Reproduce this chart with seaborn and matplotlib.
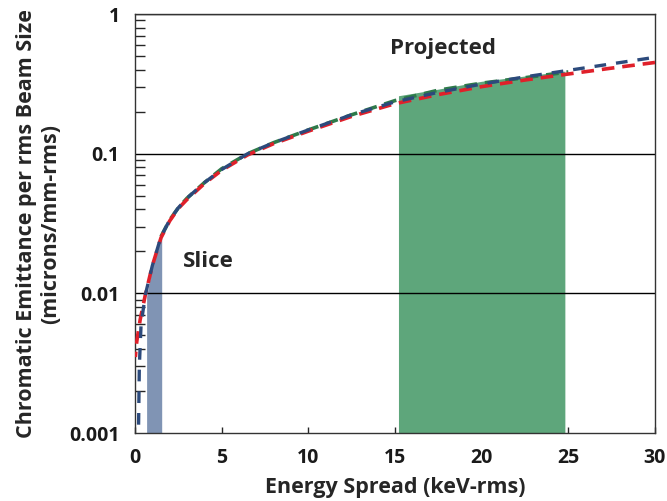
import numpy as np
import pandas as pd
import seaborn as sns
import matplotlib
matplotlib.use("Agg")
import matplotlib.pyplot as plt
from matplotlib.ticker import LogLocator, FixedLocator, NullFormatter

# ---- data ----
blue_x = [0.2, 0.25, 0.35, 0.6, 1.0, 1.5, 2.0, 2.5, 3.0, 4.0, 5.0, 6.5, 8.0, 10.0, 12.5, 15.0, 17.5, 20.0, 22.5, 25.0, 27.5, 30.0]
blue_y = [0.001, 0.003, 0.006, 0.0098, 0.0158, 0.0255, 0.0335, 0.041, 0.048, 0.062, 0.077, 0.1, 0.12, 0.148, 0.19, 0.235, 0.275, 0.315, 0.355, 0.395, 0.44, 0.49]

red_x = [0.02, 0.1, 0.3, 0.6, 1.0, 1.5, 2.0, 2.5, 3.0, 4.0, 5.0, 6.5, 8.0, 10.0, 12.5, 15.0, 17.5, 20.0, 22.5, 25.0, 27.5, 30.0]
red_y = [0.0035, 0.0045, 0.0065, 0.0098, 0.0158, 0.025, 0.033, 0.0405, 0.047, 0.061, 0.076, 0.098, 0.118, 0.145, 0.185, 0.228, 0.265, 0.302, 0.337, 0.372, 0.41, 0.45]

green_x = [1.5, 2.0, 2.5, 3.0, 4.0, 5.0, 6.5, 8.0, 10.0, 12.5, 15.0, 17.5, 20.0, 22.5, 25.0]
green_y = [0.0255, 0.0335, 0.041, 0.048, 0.062, 0.078, 0.1, 0.12, 0.148, 0.19, 0.24, 0.285, 0.32, 0.35, 0.385]

slice_x = [0.67, 1.0, 1.54]
slice_y = [0.0095, 0.0158, 0.027]

proj_x = [15.2, 17.5, 20.0, 22.5, 24.8]
proj_y = [0.26, 0.29, 0.33, 0.36, 0.39]

y_ticks = [0.001, 0.01, 0.1, 1]
y_tick_labels = ["0.001", "0.01", "0.1", "1"]
x_ticks = [0, 5, 10, 15, 20, 25, 30]

sns.set_style("white")
plt.rcParams['font.family'] = ['Open Sans', 'DejaVu Sans']

fig = plt.figure(figsize=(6.67, 5.01), dpi=100)
ax = fig.add_axes([0.2024, 0.1357, 0.7796, 0.8363])

ymin = 0.001
ax.fill_between(slice_x, ymin, slice_y, color="#8094b4", linewidth=0, zorder=1)
ax.fill_between(proj_x, ymin, proj_y, color="#5ea67b", linewidth=0, zorder=1)

for yv in [0.01, 0.1, 1]:
    ax.axhline(yv, color="black", linewidth=1.0, zorder=2)

df_b = pd.DataFrame({"x": blue_x, "y": blue_y})
df_r = pd.DataFrame({"x": red_x, "y": red_y})
df_g = pd.DataFrame({"x": green_x, "y": green_y})
sns.lineplot(data=df_g, x="x", y="y", ax=ax, color="#2e7a4a", linewidth=2.6,
             linestyle=(0, (3.5, 2.2)), zorder=3)
sns.lineplot(data=df_r, x="x", y="y", ax=ax, color="#e0202a", linewidth=2.6,
             linestyle=(2, (3.5, 2.2)), zorder=4)
sns.lineplot(data=df_b, x="x", y="y", ax=ax, color="#2c4a7c", linewidth=2.4,
             linestyle=(4, (3.5, 3.0)), zorder=5)

ax.set_yscale("log")
ax.set_xlim(0, 30)
ax.set_ylim(0.001, 1)
ax.yaxis.set_major_locator(FixedLocator(y_ticks))
ax.set_yticklabels(y_tick_labels)
ax.yaxis.set_minor_locator(LogLocator(base=10, subs=np.arange(2, 10)))
ax.yaxis.set_minor_formatter(NullFormatter())
ax.set_xticks(x_ticks)
ax.set_xticklabels([str(v) for v in x_ticks])

ax.tick_params(axis="y", which="major", direction="inout", length=10, width=1, labelsize=14, pad=6)
ax.tick_params(axis="y", which="minor", direction="in", length=7, width=1, left=True)
ax.tick_params(axis="x", which="major", direction="in", length=4, width=1, labelsize=14, pad=11, bottom=True)
for lbl in ax.get_xticklabels() + ax.get_yticklabels():
    lbl.set_fontweight("bold")
    lbl.set_color("#1a1a1a")

for s in ax.spines.values():
    s.set_color("#333333")
    s.set_linewidth(1.0)

ax.set_xlabel("Energy Spread (keV-rms)", fontsize=15.5, fontweight="bold", labelpad=6)
ax.set_ylabel("Chromatic Emittance per rms Beam Size\n(microns/mm-rms)", fontsize=15.5,
              fontweight="bold", labelpad=6, linespacing=1.15)

ax.text(2.75, 0.0168, "Slice", fontsize=16, fontweight="bold", ha="left", va="center", zorder=6)
ax.text(14.7, 0.57, "Projected", fontsize=16, fontweight="bold", ha="left", va="center", zorder=6)

fig.savefig("out.png", dpi=100)
